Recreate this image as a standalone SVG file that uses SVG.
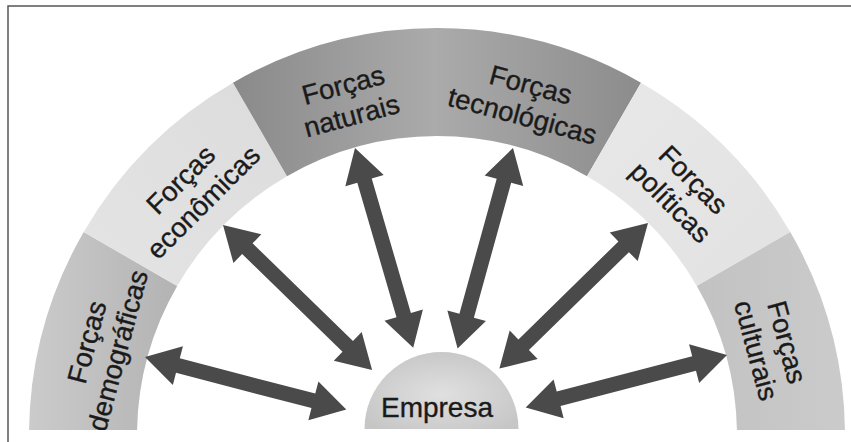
<svg xmlns="http://www.w3.org/2000/svg" width="851" height="442" viewBox="0 0 851 442">
  <style>
    .lbl { font-family: "Liberation Sans", Arial, sans-serif; font-size: 27.5px; fill: #1a1a1a; stroke: #1a1a1a; stroke-width: 0.35; text-anchor: middle; }
    .arrow { fill: #4a4a4a; }
    .frame { fill: none; stroke: #555; stroke-width: 1.5; }
  </style>
  <defs>
    <clipPath id="ringClip"><rect x="0" y="0" width="851" height="430"/></clipPath>
    <linearGradient id="gDem" x1="0" y1="0" x2="1" y2="0">
      <stop offset="0" stop-color="#cbcbcb"/><stop offset="1" stop-color="#b3b3b3"/>
    </linearGradient>
    <linearGradient id="gEco" x1="0" y1="1" x2="1" y2="0">
      <stop offset="0" stop-color="#e4e4e4"/><stop offset="1" stop-color="#dcdcdc"/>
    </linearGradient>
    <linearGradient id="gNat" x1="0" y1="0" x2="1" y2="0">
      <stop offset="0" stop-color="#8a8a8a"/><stop offset="1" stop-color="#ababab"/>
    </linearGradient>
    <linearGradient id="gTec" x1="0" y1="0" x2="1" y2="0">
      <stop offset="0" stop-color="#aaaaaa"/><stop offset="1" stop-color="#8c8c8c"/>
    </linearGradient>
    <linearGradient id="gPol" x1="0" y1="0" x2="1" y2="1">
      <stop offset="0" stop-color="#e8e8e8"/><stop offset="1" stop-color="#e2e2e2"/>
    </linearGradient>
    <linearGradient id="gCul" x1="0" y1="0" x2="1" y2="0">
      <stop offset="0" stop-color="#c2c2c2"/><stop offset="1" stop-color="#cbcbcb"/>
    </linearGradient>
    <radialGradient id="gEmp" cx="0.5" cy="0.55" r="0.6">
      <stop offset="0" stop-color="#e0e0e0"/><stop offset="1" stop-color="#c6c6c6"/>
    </radialGradient>
    <path id="dblArrow" d="M0,0 L34,-20 L34,-7.5 L174,-7.5 L174,-20 L208,0 L174,20 L174,7.5 L34,7.5 L34,20 Z"/>
  </defs>

  <rect width="851" height="442" fill="#ffffff"/>

  <!-- frame -->
  <path class="frame" d="M8,442 L8,6 L851,6"/>

  <g clip-path="url(#ringClip)">
    <g id="forcas-demograficas">
      <path d="M29,436 A408,408 0 0 1 83.7,232 L177.2,286 A300,300 0 0 0 137,436 Z" fill="url(#gDem)"/>
      <g transform="translate(101.8,346.2) rotate(-75)">
        <text class="lbl" x="0" y="-6">Forças</text>
        <text class="lbl" x="0" y="26">demográficas</text>
      </g>
    </g>
    <g id="forcas-economicas">
      <path d="M83.7,232 A408,408 0 0 1 233,82.7 L287,176.2 A300,300 0 0 0 177.2,286 Z" fill="url(#gEco)"/>
      <g transform="translate(191.6,190.6) rotate(-45)">
        <text class="lbl" x="0" y="-6">Forças</text>
        <text class="lbl" x="0" y="26">econômicas</text>
      </g>
    </g>
    <g id="forcas-naturais">
      <path d="M233,82.7 A408,408 0 0 1 437,28 L437,136 A300,300 0 0 0 287,176.2 Z" fill="url(#gNat)"/>
      <g transform="translate(347.2,99.8) rotate(-15)">
        <text class="lbl" x="0" y="-6">Forças</text>
        <text class="lbl" x="0" y="26">naturais</text>
      </g>
    </g>
    <g id="forcas-tecnologicas">
      <path d="M437,28 A408,408 0 0 1 641,82.7 L587,176.2 A300,300 0 0 0 437,136 Z" fill="url(#gTec)"/>
      <g transform="translate(526.8,99.8) rotate(15)">
        <text class="lbl" x="0" y="-6">Forças</text>
        <text class="lbl" x="0" y="26">tecnológicas</text>
      </g>
    </g>
    <g id="forcas-politicas">
      <path d="M641,82.7 A408,408 0 0 1 790.3,232 L696.8,286 A300,300 0 0 0 587,176.2 Z" fill="url(#gPol)"/>
      <g transform="translate(682.4,190.6) rotate(45)">
        <text class="lbl" x="0" y="-6">Forças</text>
        <text class="lbl" x="0" y="26">políticas</text>
      </g>
    </g>
    <g id="forcas-culturais">
      <path d="M790.3,232 A408,408 0 0 1 845,436 L737,436 A300,300 0 0 0 696.8,286 Z" fill="url(#gCul)"/>
      <g transform="translate(772.2,346.2) rotate(75)">
        <text class="lbl" x="0" y="-6">Forças</text>
        <text class="lbl" x="0" y="26">culturais</text>
      </g>
    </g>
  </g>

  <g id="empresa">
    <path d="M364.5,429 A77,77 0 0 1 518.5,429 Z" fill="url(#gEmp)"/>
    <text class="lbl" x="437" y="417" style="font-size:28px">Empresa</text>
  </g>

  <g id="connectors">
    <use href="#dblArrow" class="arrow" transform="translate(223,225) rotate(44.2)"/>
    <use href="#dblArrow" class="arrow" transform="translate(145,357) rotate(14.6)"/>
    <use href="#dblArrow" class="arrow" transform="translate(355,148) rotate(73.75)"/>
    <use href="#dblArrow" class="arrow" transform="translate(513,148) rotate(105.45)"/>
    <use href="#dblArrow" class="arrow" transform="translate(648,223) rotate(135.6)"/>
    <use href="#dblArrow" class="arrow" transform="translate(727,355) rotate(165.4)"/>
  </g>
</svg>
